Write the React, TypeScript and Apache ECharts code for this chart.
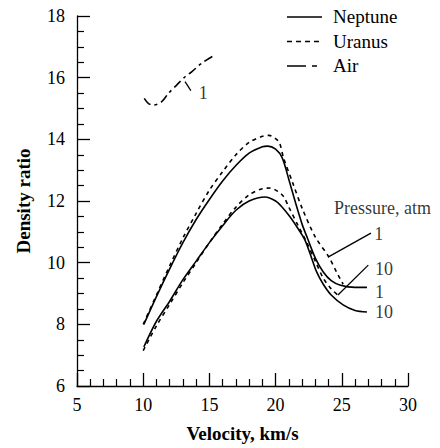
import React, { useEffect, useRef } from "react";
import * as echarts from "echarts";

// Density ratio vs velocity
const neptune1: [number, number][] = [
  [10.05, 8.0], [11, 8.9], [12, 9.8], [13, 10.65], [14, 11.4], [15, 12.05], [16, 12.65],
  [17, 13.15], [18, 13.55], [19, 13.76], [19.4, 13.78], [20, 13.68], [20.5, 13.4], [21, 12.7],
  [21.5, 11.95], [22, 11.25], [22.4, 10.8], [23, 10.15], [23.6, 9.7], [24.2, 9.42],
  [24.9, 9.27], [26, 9.2], [26.9, 9.2],
];
const neptune10: [number, number][] = [
  [10.05, 7.27], [11, 8.1], [12, 8.75], [13, 9.45], [14, 10.05], [15, 10.65], [16, 11.2],
  [17, 11.7], [18, 12.0], [19.2, 12.13], [20, 12.0], [20.5, 11.8], [21.1, 11.48], [21.7, 11.1],
  [22.2, 10.75], [22.6, 10.3], [23.1, 9.7], [23.6, 9.3], [24.2, 8.95], [25.1, 8.63],
  [26, 8.45], [26.9, 8.4],
];
const uranus1: [number, number][] = [
  [10.0, 8.0], [11, 8.95], [12, 9.9], [13, 10.8], [14, 11.6], [15, 12.35], [16, 12.95],
  [17, 13.5], [18, 13.9], [19, 14.1], [19.5, 14.13], [20, 14.02], [20.3, 13.88], [20.6, 13.4],
  [21.3, 12.58], [22, 11.77], [23, 10.83], [24, 10.2], [24.6, 9.7], [25.1, 9.3],
];
const uranus10: [number, number][] = [
  [10.0, 7.15], [11, 7.95], [12, 8.65], [13, 9.35], [14, 10.0], [15, 10.65], [16, 11.25],
  [17, 11.8], [18, 12.2], [19, 12.4], [19.6, 12.42], [20.2, 12.3], [20.6, 12.15], [21, 11.8],
  [21.7, 11.2], [22.3, 10.7], [23, 10.05], [23.6, 9.5], [24.2, 9.15], [24.7, 8.95],
];
const air1: [number, number][] = [
  [10.08, 15.33], [10.4, 15.16], [10.76, 15.11], [11.4, 15.22], [11.9, 15.49], [12.53, 15.76],
  [13.16, 16.03], [13.66, 16.19], [14.42, 16.47], [15.27, 16.7],
];

// leader lines [from, to]
const leaderAir: [number, number][] = [[13.16, 15.87], [13.6, 15.58]];
const leaderUpper1: [number, number][] = [[23.96, 10.18], [27.2, 10.96]];
const leaderUpper10: [number, number][] = [[24.71, 8.95], [27.0, 9.92]];

// annotation labels [x, y, text]
const annotations: [number, number, string][] = [
  [14.2, 15.5, "1"],
  [24.41, 11.77, "Pressure, atm"],
  [27.45, 10.93, "1"],
  [27.5, 9.79, "10"],
  [27.5, 9.05, "1"],
  [27.5, 8.4, "10"],
];

const legendNames = ["Neptune", "Uranus", "Air"];
const legendDashes: (number[] | null)[] = [null, [5, 4], [19, 6, 5, 10]];

const xTicks = { min: 5, max: 30, interval: 5 };
const yTicks = { min: 6, max: 18, interval: 2 };

const FONT = "Liberation Serif";
const INK = "#000";

export default function App() {
  const ref = useRef<HTMLDivElement>(null);
  useEffect(() => {
    if (!ref.current) return;
    const chart = echarts.init(ref.current, undefined, { renderer: "svg" });
    const curve = (name: string, data: [number, number][], type: any) => ({
      name,
      type: "line",
      data,
      smooth: 0.3,
      symbol: "none",
      showSymbol: false,
      lineStyle: { color: INK, width: 1.6, type },
      itemStyle: { color: INK },
      z: 3,
    });
    const leader = (data: [number, number][]) => ({
      type: "line",
      data,
      symbol: "none",
      showSymbol: false,
      lineStyle: { color: INK, width: 1.3 },
      silent: true,
    });
    const legendGraphics: any[] = [];
    legendNames.forEach((name, i) => {
      const y = 17 + i * 24.5;
      legendGraphics.push({
        type: "line",
        shape: { x1: 287, y1: y, x2: 322, y2: y },
        style: { stroke: INK, lineWidth: 1.5, lineDash: legendDashes[i] || undefined },
      });
      legendGraphics.push({
        type: "text",
        x: 333,
        y: y - 10,
        style: { text: name, fontFamily: FONT, fontSize: 19, fill: INK },
      });
    });
    chart.setOption({
      animation: false,
      backgroundColor: "#fff",
      textStyle: { fontFamily: FONT },
      grid: { left: 77, right: 32, top: 16, bottom: 62 },
      graphic: legendGraphics,
      xAxis: {
        type: "value",
        min: xTicks.min,
        max: xTicks.max,
        interval: xTicks.interval,
        name: "Velocity, km/s",
        nameLocation: "middle",
        nameGap: 38,
        nameTextStyle: { fontFamily: FONT, fontSize: 19, fontWeight: "bold", color: INK },
        axisLine: { show: true, lineStyle: { color: INK, width: 1.3 } },
        axisTick: { show: true, inside: true, length: 13, lineStyle: { color: INK, width: 1.3 } },
        minorTick: { show: true, splitNumber: 5, length: 7, lineStyle: { color: INK, width: 1.2 } },
        axisLabel: { fontFamily: FONT, fontSize: 18, color: INK, margin: 10 },
        splitLine: { show: false },
      },
      yAxis: {
        type: "value",
        min: yTicks.min,
        max: yTicks.max,
        interval: yTicks.interval,
        name: "Density ratio",
        nameLocation: "middle",
        nameGap: 44,
        nameTextStyle: { fontFamily: FONT, fontSize: 19, fontWeight: "bold", color: INK },
        axisLine: { show: true, lineStyle: { color: INK, width: 1.3 } },
        axisTick: { show: true, inside: true, length: 13, lineStyle: { color: INK, width: 1.3 } },
        minorTick: { show: true, splitNumber: 4, length: 7, lineStyle: { color: INK, width: 1.2 } },
        axisLabel: { fontFamily: FONT, fontSize: 18, color: INK, margin: 12 },
        splitLine: { show: false },
      },
      series: [
        curve("Neptune", neptune1, "solid"),
        curve("Neptune", neptune10, "solid"),
        curve("Uranus", uranus1, [4, 4]),
        curve("Uranus", uranus10, [4, 4]),
        curve("Air", air1, [9, 4, 3, 4]),
        leader(leaderAir),
        leader(leaderUpper1),
        leader(leaderUpper10),
        {
          type: "scatter",
          data: annotations.map((a) => ({ value: [a[0], a[1]], text: a[2] })),
          symbolSize: 1,
          itemStyle: { color: "rgba(0,0,0,0)" },
          silent: true,
          label: {
            show: true,
            position: "inside",
            align: "left",
            verticalAlign: "middle",
            fontFamily: FONT,
            fontSize: 18,
            color: INK,
            formatter: (p: any) => p.data.text,
          },
        },
      ],
    });
    return () => chart.dispose();
  }, []);
  return <div ref={ref} style={{ width: 440, height: 448, position: "absolute", left: 0, top: 0 }} />;
}
